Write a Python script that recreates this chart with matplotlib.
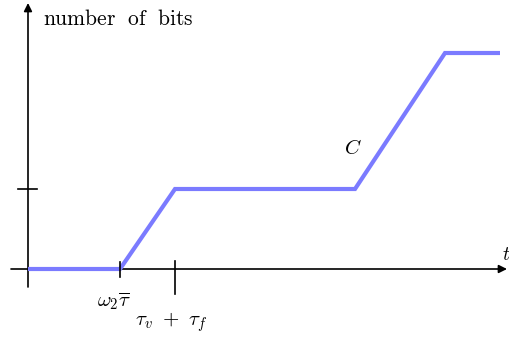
import matplotlib
matplotlib.use('Agg')
import matplotlib.pyplot as plt

plt.rcParams['mathtext.fontset'] = 'cm'

# cumulative bits C(t), piecewise linear
t_pts = [0, 9.2, 14.7, 32.7, 41.7, 47.2]
bits_pts = [0, 0, 8, 8, 21.6, 21.6]

# marked instants on the time axis and the level on the bits axis
t_ticks = [9.2, 14.7]
t_tick_labels = [r'$\omega_2\overline{\tau}$', r'$\tau_v\ +\ \tau_f$']
bits_tick = 8

fig = plt.figure(figsize=(5.1, 3.43), dpi=100)
ax = fig.add_axes([0, 0, 1, 1])
ax.set_xlim(-2.8, 48.2)
ax.set_ylim(-7.4, 26.9)
ax.axis('off')

# axes with arrows
arr = dict(arrowstyle='-|>', color='black', lw=1.2, mutation_scale=12,
           shrinkA=0, shrinkB=0)
ax.annotate('', xy=(47.9, 0), xytext=(-1.7, 0), arrowprops=arr)
ax.annotate('', xy=(0, 26.6), xytext=(0, -1.8), arrowprops=arr)

# curve
ax.plot(t_pts, bits_pts, color='#7b7bff', lw=3, solid_joinstyle='miter',
        solid_capstyle='butt', zorder=3)

# ticks
ax.plot([t_ticks[0], t_ticks[0]], [0.7, -0.8], color='black', lw=1.2, zorder=4)
ax.plot([t_ticks[1], t_ticks[1]], [0.8, -2.5], color='black', lw=1.2, zorder=4)
ax.plot([-1.0, 0.9], [bits_tick, bits_tick], color='black', lw=1.2)

# labels
ax.text(t_ticks[0] - 0.6, -3.2, t_tick_labels[0], fontsize=15, ha='center', va='center')
ax.text(t_ticks[1] - 0.4, -5.3, t_tick_labels[1], fontsize=15, ha='center', va='center')
ax.text(1.5, 25.0, r'$\mathrm{number\ \ of\ \ bits}$', fontsize=15.5, ha='left', va='center')
ax.text(32.5, 12.1, r'$C$', fontsize=15, ha='center', va='center')
ax.text(48.2, 1.5, r'$t$', fontsize=14, ha='right', va='center')

fig.savefig('out.png', dpi=100)
plt.close(fig)
